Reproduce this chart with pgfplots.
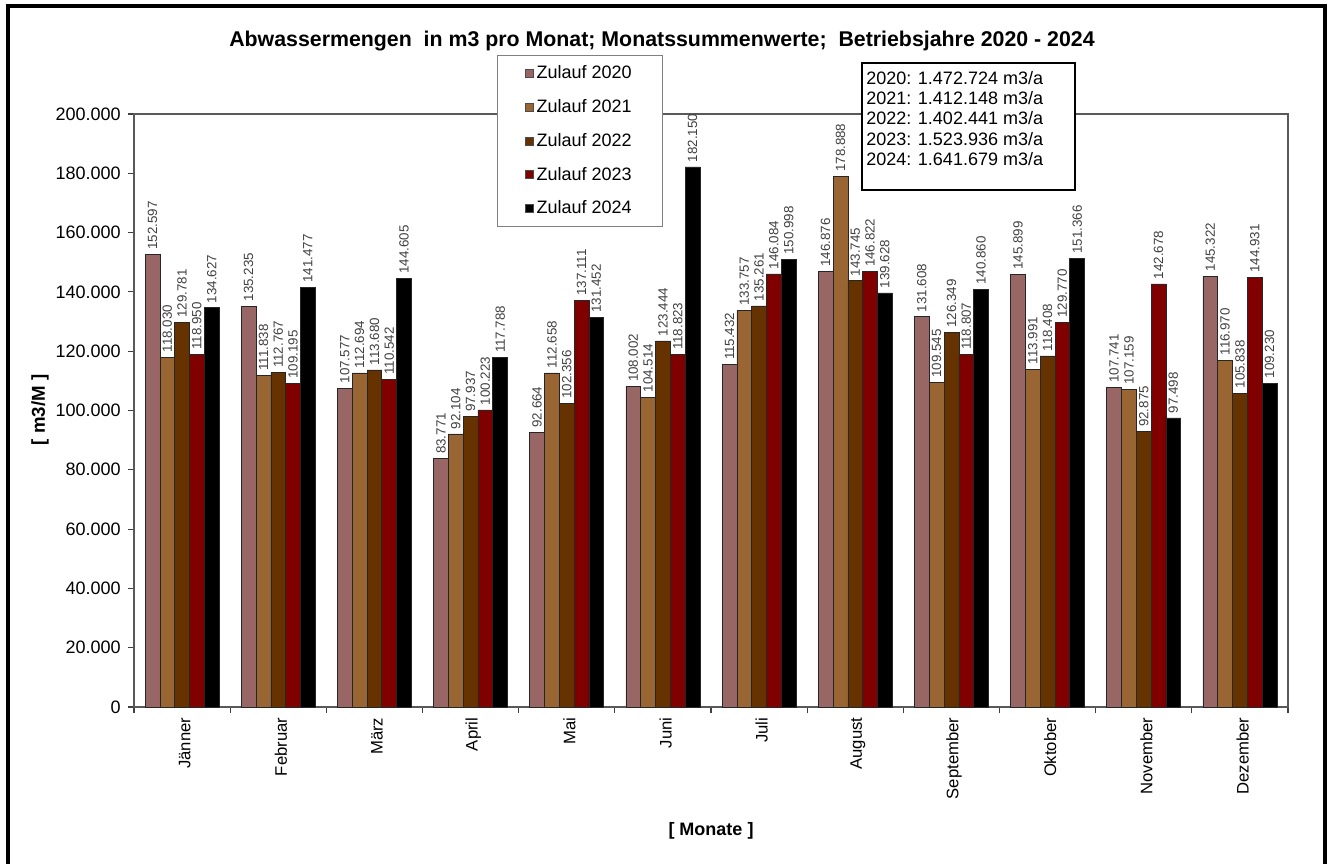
\documentclass[border=0pt]{standalone}
\usepackage{fontspec}
\setmainfont{Liberation Sans}
\usepackage{pgfplots}
\pgfplotsset{compat=1.18}
\definecolor{cA}{HTML}{996666}
\definecolor{cB}{HTML}{996633}
\definecolor{cC}{HTML}{663300}
\definecolor{cD}{HTML}{800000}
\definecolor{cE}{HTML}{000000}
\begin{document}
\begin{tikzpicture}[x=0.75pt,y=0.75pt]
\clip (0,0) rectangle (1330,863);
\useasboundingbox (0,0) rectangle (1330,863);
\draw[line width=3pt] (8,-20) -- (8,857) -- (1325,857) -- (1325,-20);
\begin{axis}[
  at={(100.5pt,117pt)}, anchor=south west,
  scale only axis, width=865.5pt, height=444.75pt,
  clip=false,
  ymin=0, ymax=200000, ytick={0,20000,...,200000},
  xmin=-0.5, xmax=11.5,
  xtick={0,...,11},
  xticklabels={Jänner,Februar,März,April,Mai,Juni,Juli,August,September,Oktober,November,Dezember},
  minor xtick={-0.5,0.5,...,11.5},
  major x tick style={draw=none},
  xtick pos=bottom, ytick pos=left,
  tick align=outside,
  major tick length=4.5pt, minor tick length=4.5pt,
  tick style={gray!50!black, line width=0.8pt},
  axis line style={gray!70!black, line width=0.8pt},
  xticklabel style={rotate=90, anchor=east, font=\fontsize{12.5}{14}\selectfont, yshift=-2pt},
  yticklabel style={font=\fontsize{13.5}{15}\selectfont, xshift=-2pt},
  scaled y ticks=false,
  /pgf/number format/assume math mode=true,
  y tick label style={/pgf/number format/.cd, fixed, precision=0, 1000 sep={.}},
  ybar, bar width=0.154,
  nodes near coords,
  nodes near coords style={rotate=90, anchor=west, font=\fontsize{10}{12}\selectfont, text=black!75,
     /pgf/number format/.cd, fixed, precision=0, 1000 sep={.}, assume math mode=true},
  every axis plot/.append style={draw=black!85, line width=0.5pt},
  legend image code/.code={\draw[#1, draw=black!70, line width=0.5pt] (0pt,-3pt) rectangle (6pt,3pt);},
  legend style={at={(0.3146,1.0995)}, anchor=north west, draw=gray, fill=white,
     font=\fontsize{13.5}{15}\selectfont, row sep=10pt, inner xsep=21pt, inner ysep=6pt,
     cells={anchor=west}},
]
\addplot[fill=cA, bar shift=-0.308] coordinates {(0,152597) (1,135235) (2,107577) (3,83771) (4,92664) (5,108002) (6,115432) (7,146876) (8,131608) (9,145899) (10,107741) (11,145322)};
\addplot[fill=cB, bar shift=-0.154] coordinates {(0,118030) (1,111838) (2,112694) (3,92104) (4,112658) (5,104514) (6,133757) (7,178888) (8,109545) (9,113991) (10,107159) (11,116970)};
\addplot[fill=cC, bar shift=0] coordinates {(0,129781) (1,112767) (2,113680) (3,97937) (4,102356) (5,123444) (6,135261) (7,143745) (8,126349) (9,118408) (10,92875) (11,105838)};
\addplot[fill=cD, bar shift=0.154] coordinates {(0,118950) (1,109195) (2,110542) (3,100223) (4,137111) (5,118823) (6,146084) (7,146822) (8,118807) (9,129770) (10,142678) (11,144931)};
\addplot[fill=cE, bar shift=0.308] coordinates {(0,134627) (1,141477) (2,144605) (3,117788) (4,131452) (5,182150) (6,150998) (7,139628) (8,140860) (9,151366) (10,97498) (11,109230)};
\legend{Zulauf 2020,Zulauf 2021,Zulauf 2022,Zulauf 2023,Zulauf 2024}
\end{axis}
\node[font=\bfseries\fontsize{16}{18}\selectfont] at (662,822) {Abwassermengen\ \ in m3 pro Monat; Monatssummenwerte;\ \ Betriebsjahre 2020 - 2024};
\node[rotate=90, font=\bfseries\fontsize{14}{16}\selectfont] at (40,453) {[ m3/M ]};
\node[font=\bfseries\fontsize{13.5}{15}\selectfont] at (711,32) {[ Monate ]};
\draw[fill=white, line width=1.2pt] (862,800) rectangle (1075,673);
\node[anchor=north west, align=left, inner sep=0pt, font=\fontsize{13.5}{15.2}\selectfont] at (866,792) {2020: 1.472.724 m3/a\\2021: 1.412.148 m3/a\\2022: 1.402.441 m3/a\\2023: 1.523.936 m3/a\\2024: 1.641.679 m3/a};
\end{tikzpicture}
\end{document}
